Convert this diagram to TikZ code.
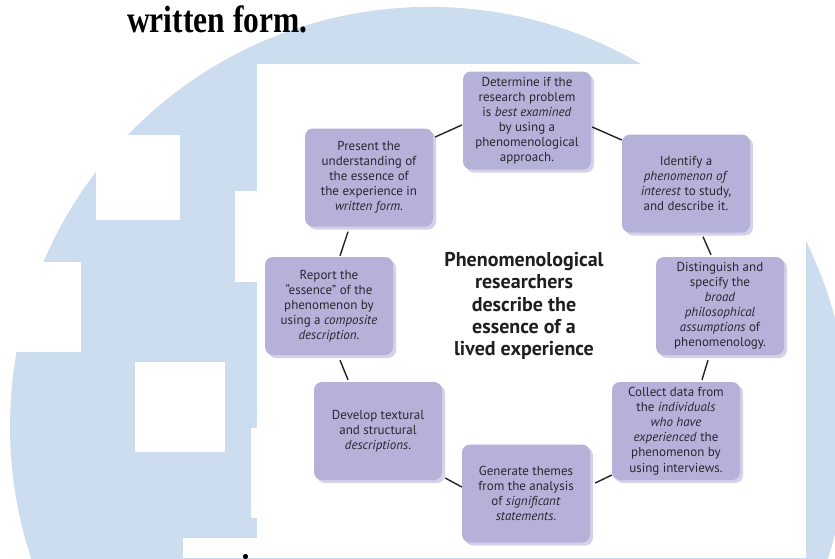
\documentclass[tikz,border=0pt]{standalone}
\usepackage{fontspec}
\usepackage{graphicx}
\setmainfont{Liberation Serif}
\newfontfamily\boxfont{PT Sans}
\usetikzlibrary{shadows}
\definecolor{wmblue}{RGB}{203,221,238}
\definecolor{stepfill}{RGB}{181,177,216}
\definecolor{stepshade}{RGB}{212,209,233}
\definecolor{inktext}{RGB}{40,40,50}
\definecolor{linkline}{RGB}{35,35,35}

\begin{document}
\begin{tikzpicture}[x=1pt,y=-1pt,
  stepbox/.style={rectangle, rounded corners=8pt, fill=stepfill,
    minimum width=128pt, minimum height=98pt, inner sep=0pt,
    align=center, text=inktext,
    font=\boxfont\fontsize{13}{15.1}\selectfont,
    drop shadow={shadow xshift=3pt, shadow yshift=-3pt, fill=stepshade, opacity=1}},
  link/.style={draw=linkline, line width=1.4pt},
  patch/.style={fill=white, draw=none}]
\useasboundingbox (0,0) rectangle (835,558);
\fill[white] (0,0) rectangle (835,558);

% light blue emblem behind the page
\fill[wmblue] (429.5,426.4) circle[radius=419.5pt];
\fill[patch] (96,135) rectangle (180,220);
\fill[patch] (0,262) rectangle (81,352);
\fill[patch] (135,362) rectangle (225,452);
\fill[patch] (235,191) rectangle (260,282);
\fill[patch] (251,428) rectangle (260,518);
\fill[patch] (183,538) rectangle (260,558);

% heading text above the figure
\node[anchor=base west, inner sep=0pt, font=\bfseries\fontsize{38}{40}\selectfont] (ttl) at (127,32)
  {\scalebox{0.83}[1]{written form.}};
% dot of the next line's first letter, cut by the lower edge
\fill[black] (245.5,556.5) circle[radius=2.6pt];

% white figure panel
\fill[white] (257,64) rectangle (806,558);

% the cycle of steps
\node[stepbox] (D) at (527,120.5) {Determine if the\\research problem\\is \textit{best examined}\\by using a\\phenomenological\\approach.};
\node[stepbox] (I) at (686,183.5) {Identify a\\\textit{phenomenon of}\\\textit{interest} to study,\\and describe it.};
\node[stepbox] (S) at (720,306) {Distinguish and\\specify the\\\textit{broad}\\\textit{philosophical}\\\textit{assumptions} of\\phenomenology.};
\node[stepbox] (C) at (676,431) {Collect data from\\the \textit{individuals}\\\textit{who have}\\\textit{experienced} the\\phenomenon by\\using interviews.};
\node[stepbox] (G) at (526,493.5) {Generate themes\\from the analysis\\of \textit{significant}\\\textit{statements}.};
\node[stepbox] (V) at (378,431) {Develop textural\\and structural\\\textit{descriptions}.};
\node[stepbox] (R) at (329,306) {Report the\\“essence” of the\\phenomenon by\\using a \textit{composite}\\\textit{description}.};
\node[stepbox] (P) at (369,177.5) {Present the\\understanding of\\the essence of\\the experience in\\\textit{written form}.};

\node[align=center, text=black!88, font=\boxfont\bfseries\fontsize{20}{22.2}\selectfont] (hub) at (524,306)
  {Phenomenological\\researchers\\describe the\\essence of a\\lived experience};

% connectors between neighbouring steps
\draw[link] ([shift={(2,-40.5)}]P.east) -- ([shift={(-1,4.5)}]D.west);
\draw[link] ([shift={(1,6.5)}]D.east) -- ([shift={(0,-43.5)}]I.west);
\draw[link] ([shift={(17,4)}]I.south) -- ([shift={(-9,-2)}]S.north);
\draw[link] ([shift={(-12,5)}]S.south) -- ([shift={(26,-2)}]C.north);
\draw[link] ([shift={(0,44)}]C.west) -- ([shift={(5,-10.5)}]G.east);
\draw[link] ([shift={(0,-6.5)}]G.west) -- ([shift={(3,47)}]V.east);
\draw[link] ([shift={(-30,-2)}]V.north) -- ([shift={(11,5)}]R.south);
\draw[link] ([shift={(11,-1)}]R.north) -- ([shift={(-21,5)}]P.south);
\end{tikzpicture}
\end{document}
